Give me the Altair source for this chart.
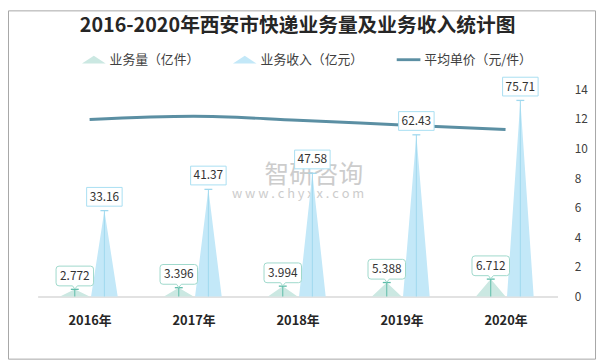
import altair as alt
import pandas as pd

# ---------------- data ----------------
years = ["2016年", "2017年", "2018年", "2019年", "2020年"]
volume = [2.772, 3.396, 3.994, 5.388, 6.712]          # 业务量（亿件）
revenue = [33.16, 41.37, 47.58, 62.43, 75.71]         # 业务收入（亿元）
price = [11.96, 12.18, 11.91, 11.59, 11.28]           # 平均单价（元/件）
series_names = ["业务量（亿件）", "业务收入（亿元）", "平均单价（元/件）"]
price_ticks = [0, 2, 4, 6, 8, 10, 12, 14]
title_text = "2016-2020年西安市快递业务量及业务收入统计图"
watermark_cn = "智研咨询"
watermark_en = "w w w . c h y x x . c o m"

# ---------------- layout / style ----------------
W, H = 527, 210
UNIT = W / len(years)
SHIFT = 15 / UNIT
FONT = "Noto Sans CJK SC"
VOL_FILL, VOL_LINE, VOL_BOX = "#cbe8e2", "#5cbca8", "#9ed8cb"
REV_FILL, REV_LINE, REV_BOX = "#c3e8f8", "#9fd8ee", "#a9def2"
LINE_COLOR = "#5b8fa3"

idx = list(range(len(years)))
label_expr = "[" + ",".join("'%s'" % y for y in years) + "][datum.value]"


def xenc(field):
    return alt.X(
        f"{field}:Q",
        scale=alt.Scale(domain=[-0.5, len(years) - 0.5], nice=False, zero=False),
        axis=alt.Axis(values=idx, labelExpr=label_expr, title=None, grid=False,
                      ticks=False, domainColor="#d9d9d9", domainWidth=1.5,
                      labelFontSize=13, labelFontWeight="bold", labelColor="#262626",
                      labelFont=FONT, labelPadding=18),
    )


def yleft(field):
    return alt.Y(f"{field}:Q", scale=alt.Scale(domain=[0, 80], nice=False), axis=None)


def spike_tables(values, shift):
    pts = pd.DataFrame({"year": years, "value": values,
                        "pos": [i + shift for i in idx]})
    corners = pd.concat([pts.assign(dx=d, frac=f) for d, f in ((-1, 0.0), (0, 1.0), (1, 0.0))],
                        ignore_index=True)
    return pts, corners


def rounded_box(w, h, gap, radius, pointer):
    r = w / 2.0
    x0, x1 = -1.0, 1.0
    yb = -gap / r
    yt = -(gap + h) / r
    rr = radius / r
    s = f"M{x0 + rr},{yt} L{x1 - rr},{yt} "
    s += f"Q{x1},{yt} {x1},{yt + rr} L{x1},{yb - rr} Q{x1},{yb} {x1 - rr},{yb} "
    if pointer:
        s += f"L0.14,{yb} L0.0,{-0.3 / r} L-0.12,{yb} "
    s += f"L{x0 + rr},{yb} Q{x0},{yb} {x0},{yb - rr} L{x0},{yt + rr} Q{x0},{yt} {x0 + rr},{yt} Z"
    return s, (w * w)


def spike_layers(values, shift, fill, line, box, width, fmt, box_w, box_h, gap, radius, pointer):
    pts, tri = spike_tables(values, shift)
    half = (width / 2.0) / UNIT
    area = alt.Chart(tri).transform_calculate(
        px=f"datum.pos + datum.dx * {half}", py="datum.frac * datum.value"
    ).mark_area(color=fill, opacity=1).encode(
        x=xenc("px"), y=yleft("py"), detail="year:N", order="dx:Q",
    )
    rule = alt.Chart(pts).mark_rule(color=line, strokeWidth=1).encode(
        x=xenc("pos"), y=yleft("value"), y2=alt.datum(0)
    )
    cap = alt.Chart(pts).mark_point(shape="M-1,0L1,0", size=64, stroke=line,
                                    strokeWidth=1.3, filled=False, opacity=1).encode(
        x=xenc("pos"), y=yleft("value")
    )
    path, size = rounded_box(box_w, box_h, gap, radius, pointer)
    boxes = alt.Chart(pts).mark_point(shape=path, size=size, filled=True, fill="white",
                                      stroke=box, strokeWidth=1, opacity=1).encode(
        x=xenc("pos"), y=yleft("value")
    )
    text = alt.Chart(pts).mark_text(dy=-(gap + box_h / 2), fontSize=12, font=FONT,
                                    color="#333333", baseline="middle").encode(
        x=xenc("pos"), y=yleft("value"), text=alt.Text("value:Q", format=fmt)
    )
    return [area, rule, cap], [boxes, text]


vol_marks, vol_labels = spike_layers(volume, -SHIFT, VOL_FILL, VOL_LINE, VOL_BOX, 30, ".3f",
                                     38, 20, 3.5, 3, True)
rev_marks, rev_labels = spike_layers(revenue, SHIFT, REV_FILL, REV_LINE, REV_BOX, 27, ".2f",
                                     36, 19, 4.5, 0, False)

price_df = pd.DataFrame({"year": years, "pos": idx, "price": price})
line = alt.Chart(price_df).mark_line(interpolate="monotone", strokeWidth=3,
                                     color=LINE_COLOR).encode(
    x=xenc("pos"),
    y=alt.Y("price:Q", scale=alt.Scale(domain=[0, 14], nice=False),
            axis=alt.Axis(orient="right", values=price_ticks, grid=False, ticks=False,
                          domain=False, labelFontSize=12, labelColor="#404040",
                          labelFont=FONT, labelPadding=17, title=None)),
)

# legend (driven by the explicit scale domain)
tri_path = "M-1,0.33L0,-0.33L1,0.33Z"
bar_path = "M-1,-0.12L1,-0.12L1,0.12L-1,0.12Z"
legend_layer = alt.Chart(pd.DataFrame({"series": series_names})).transform_filter(
    "datum.series == 'none'"
).mark_point(filled=True, opacity=1).encode(
    color=alt.Color("series:N", scale=alt.Scale(domain=series_names,
                                                range=[VOL_FILL, REV_FILL, LINE_COLOR]),
                    title=None),
    shape=alt.Shape("series:N", scale=alt.Scale(domain=series_names,
                                                range=[tri_path, tri_path, bar_path]),
                    title=None),
)

one = pd.DataFrame({"a": [0]})
wm1 = alt.Chart(one).mark_text(fontSize=25, font=FONT, color="#c4c4c4", opacity=0.85).encode(
    x=alt.value(280), y=alt.value(87), text=alt.value(watermark_cn))
wm2 = alt.Chart(one).mark_text(fontSize=13, font=FONT, color="#c4c4c4", opacity=0.85).encode(
    x=alt.value(264), y=alt.value(106), text=alt.value(watermark_en))
border = alt.Chart(one).mark_rect(fillOpacity=0, stroke="#a6a6a6", strokeWidth=1).encode(
    x=alt.value(-29.5), x2=alt.value(565.5), y=alt.value(-79.5), y2=alt.value(273.5))

chart = alt.layer(
    border, wm1, wm2, line, *vol_marks, *rev_marks, *vol_labels, *rev_labels, legend_layer
).resolve_scale(y="independent").properties(
    width=W, height=H,
    title=alt.Title(title_text, font=FONT, fontSize=20, fontWeight="bold", color="#262626",
                    anchor="middle", offset=0, dy=26),
    autosize=alt.AutoSizeParams(type="none"),
    padding={"left": 30, "top": 80, "right": 40, "bottom": 65},
).configure_view(stroke=None).configure_legend(
    orient="none", legendX=45, legendY=-42, direction="horizontal", columns=3,
    columnPadding=33, labelOffset=4, symbolSize=576, symbolStrokeWidth=0,
    labelFontSize=13, labelFont=FONT, labelColor="#404040", padding=0,
)

chart.save("out.html", embed_options={"renderer": "svg", "actions": False})
